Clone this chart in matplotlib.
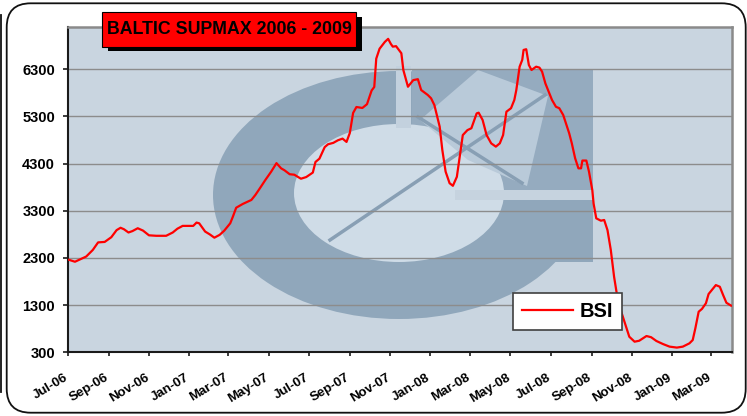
import matplotlib
matplotlib.use('Agg')
import matplotlib.pyplot as plt
import matplotlib.dates as mdates
import matplotlib.transforms as mtransforms
from matplotlib.patches import Ellipse, Rectangle, Polygon, FancyBboxPatch
from matplotlib.lines import Line2D
import pandas as pd

# ---------------- data ----------------
dates = [
    "2006-07-03", "2006-07-12", "2006-07-29", "2006-08-08", "2006-08-16", "2006-08-26",
    "2006-09-05", "2006-09-13", "2006-09-19", "2006-09-24", "2006-10-01", "2006-10-07",
    "2006-10-15", "2006-10-23", "2006-11-01", "2006-11-12", "2006-11-27", "2006-12-07",
    "2006-12-14", "2006-12-22", "2007-01-07", "2007-01-12", "2007-01-16", "2007-01-25",
    "2007-02-01", "2007-02-08", "2007-02-16", "2007-02-23", "2007-03-04", "2007-03-08",
    "2007-03-13", "2007-03-23", "2007-04-05", "2007-04-11", "2007-04-18", "2007-04-26",
    "2007-05-05", "2007-05-13", "2007-05-20", "2007-05-25", "2007-06-02", "2007-06-09",
    "2007-06-19", "2007-06-27", "2007-07-07", "2007-07-11", "2007-07-17", "2007-07-25",
    "2007-07-30", "2007-08-07", "2007-08-14", "2007-08-21", "2007-08-27", "2007-09-01",
    "2007-09-06", "2007-09-11", "2007-09-20", "2007-09-27", "2007-10-04", "2007-10-08",
    "2007-10-11", "2007-10-16", "2007-10-24", "2007-10-29", "2007-11-02", "2007-11-05",
    "2007-11-10", "2007-11-18", "2007-11-21", "2007-11-28", "2007-12-06", "2007-12-13",
    "2007-12-18", "2007-12-28", "2008-01-02", "2008-01-07", "2008-01-15", "2008-01-19",
    "2008-01-24", "2008-01-30", "2008-02-04", "2008-02-10", "2008-02-15", "2008-02-19",
    "2008-02-26", "2008-03-03", "2008-03-11", "2008-03-14", "2008-03-20", "2008-03-26",
    "2008-04-02", "2008-04-09", "2008-04-15", "2008-04-20", "2008-04-25", "2008-05-02",
    "2008-05-07", "2008-05-10", "2008-05-15", "2008-05-19", "2008-05-21", "2008-05-25",
    "2008-05-29", "2008-06-02", "2008-06-09", "2008-06-14", "2008-06-18", "2008-06-23",
    "2008-06-28", "2008-07-03", "2008-07-09", "2008-07-14", "2008-07-20", "2008-07-25",
    "2008-07-29", "2008-08-02", "2008-08-07", "2008-08-12", "2008-08-16", "2008-08-18",
    "2008-08-24", "2008-08-28", "2008-09-02", "2008-09-04", "2008-09-08", "2008-09-15",
    "2008-09-20", "2008-09-25", "2008-09-30", "2008-10-05", "2008-10-09", "2008-10-15",
    "2008-10-23", "2008-10-28", "2008-11-05", "2008-11-12", "2008-11-23", "2008-11-30",
    "2008-12-08", "2008-12-18", "2008-12-28", "2009-01-08", "2009-01-17", "2009-01-27",
    "2009-02-01", "2009-02-05", "2009-02-10", "2009-02-15", "2009-02-21", "2009-02-25",
    "2009-03-02", "2009-03-08", "2009-03-14", "2009-03-19", "2009-03-24", "2009-03-31",
]
bsi = [
    2260, 2220, 2330, 2470, 2630, 2640,
    2740, 2890, 2940, 2910, 2840, 2870,
    2930, 2880, 2780, 2770, 2770, 2840,
    2920, 2980, 2980, 3050, 3035, 2860,
    2800, 2730, 2790, 2880, 3035, 3175,
    3365, 3445, 3530, 3635, 3780, 3950,
    4130, 4310, 4200, 4160, 4075, 4065,
    3980, 4015, 4110, 4335, 4405, 4650,
    4710, 4740, 4795, 4830, 4760, 4950,
    5375, 5500, 5480, 5560, 5850, 5925,
    6525, 6735, 6880, 6945, 6840, 6780,
    6790, 6640, 6285, 5930, 6070, 6090,
    5860, 5755, 5685, 5540, 5085, 4590,
    4130, 3885, 3830, 4020, 4520, 4905,
    5010, 5050, 5365, 5380, 5225, 4905,
    4730, 4660, 4730, 4905, 5400, 5475,
    5650, 5860, 6355, 6500, 6710, 6725,
    6390, 6285, 6355, 6335, 6250, 6000,
    5825, 5650, 5505, 5475, 5330, 5120,
    4945, 4730, 4415, 4200, 4200, 4365,
    4365, 4130, 3740, 3450, 3140, 3090,
    3105, 2890, 2470, 1900, 1550, 1195,
    845, 630, 525, 545, 645, 620,
    540, 475, 420, 400, 420, 490,
    560, 810, 1160, 1220, 1340, 1535,
    1620, 1725, 1690, 1515, 1350, 1290,
]
y_ticks = [300, 1300, 2300, 3300, 4300, 5300, 6300]
y_limits = [300, 7190]
x_tick_dates = pd.date_range("2006-07-01", "2009-03-01", freq="2MS")
x_limits = ["2006-07-01", "2009-04-01"]
title_text = "BALTIC SUPMAX 2006 - 2009"
series_name = "BSI"

# ---------------- figure ----------------
plt.rcParams['font.family'] = ['Liberation Sans', 'DejaVu Sans']
plt.rcParams['font.weight'] = 'bold'

W, H = 747, 416
fig = plt.figure(figsize=(W / 100, H / 100), dpi=100)
fig.patch.set_facecolor('white')

L, R, T, B = 67.7, 731.7, 27.3, 352.3
ax = fig.add_axes([L / W, 1 - B / H, (R - L) / W, (B - T) / H])
ax.set_facecolor('#c9d5e0')


def axp(px, py):
    return ((px - L) / (R - L), (B - py) / (B - T))


# watermark logo (decorative)
ring = '#90a7bb'
light = '#cfdce7'
wm = []
wm.append(Ellipse(axp(399, 195), 372 / (R - L), 248 / (B - T), fc=ring, ec='none'))
wm.append(Rectangle(axp(412, 190), 181 / (R - L), 121 / (B - T), fc='#95abbf', ec='none'))
wm.append(Rectangle(axp(507, 262), 86 / (R - L), 62 / (B - T), fc=ring, ec='none'))
wm.append(Ellipse(axp(399, 193), 210 / (R - L), 138 / (B - T), fc=light, ec='none'))
wm.append(Rectangle(axp(455, 200), 140 / (R - L), 10 / (B - T), fc='#c6d3df', ec='none'))
wm.append(Rectangle(axp(396, 128), 15 / (R - L), 62 / (B - T), fc='#c3d1de', ec='none'))
wm.append(Polygon([axp(420, 120), axp(478, 70), axp(548, 96), axp(527, 186), axp(468, 160)],
                  closed=True, fc='#b9cad9', ec='none'))
for p in wm:
    p.set_transform(ax.transAxes)
    p.set_zorder(0.2)
    ax.add_patch(p)
for (x0, y0, x1, y1) in [(330, 240, 545, 95), (418, 117, 522, 183)]:
    a0, a1 = axp(x0, y0), axp(x1, y1)
    ax.add_line(Line2D([a0[0], a1[0]], [a0[1], a1[1]], transform=ax.transAxes,
                       color='#889fb4', lw=2.5, zorder=0.3))

# data line
x = pd.to_datetime(dates)
ax.plot(x, bsi, color='#ff0000', lw=1.6, label=series_name, zorder=3)

ax.set_ylim(*y_limits)
ax.set_xlim(pd.Timestamp(x_limits[0]), pd.Timestamp(x_limits[1]))
ax.set_yticks(y_ticks)
ax.set_yticklabels([str(v) for v in y_ticks])
ax.set_xticks(x_tick_dates)
ax.xaxis.set_major_formatter(mdates.DateFormatter('%b-%y'))

ax.set_axisbelow(True)
ax.yaxis.grid(True, color='#8c8c8c', lw=1.0, zorder=0.5)
ax.xaxis.grid(False)

for s in ['top', 'right']:
    ax.spines[s].set_color('#8a8a8a')
    ax.spines[s].set_linewidth(1.8)
for s in ['left', 'bottom']:
    ax.spines[s].set_color('#1a1a1a')
    ax.spines[s].set_linewidth(1.5)

ax.tick_params(axis='y', direction='out', length=3.6, width=1.2, color='#1a1a1a',
               pad=5.5, labelsize=10.5)
ax.tick_params(axis='x', direction='out', length=3.0, width=1.2, color='#1a1a1a',
               pad=11, labelsize=9.5)
offset = mtransforms.ScaledTranslation(-4 / 100, 0, fig.dpi_scale_trans)
for lbl in ax.get_xticklabels():
    lbl.set_rotation(31)
    lbl.set_ha('right')
    lbl.set_va('top')
    lbl.set_rotation_mode('anchor')
    lbl.set_fontweight('bold')
    lbl.set_transform(lbl.get_transform() + offset)
for lbl in ax.get_yticklabels():
    lbl.set_fontweight('bold')

# legend
leg = ax.legend(loc='upper left', bbox_to_anchor=axp(512.7, 292.7), borderaxespad=0,
                prop={'weight': 'bold', 'size': 14.5}, handlelength=2.55,
                handletextpad=0.3, borderpad=0.45, fancybox=False, framealpha=1,
                edgecolor='#404040', facecolor='white')
leg.get_frame().set_linewidth(1.2)
for ln in leg.get_lines():
    ln.set_linewidth(1.6)

# title box with shadow (pixel coordinates)
pix = mtransforms.IdentityTransform()
fig.add_artist(Rectangle((107.5, H - 51), 254.2, 34.3, transform=pix, fc='black', ec='none'))
fig.add_artist(Rectangle((102.3, H - 46.7), 253.4, 34.4, transform=pix, fc='#ff0000',
                         ec='black', lw=0.8))
fig.text(229.5 / W, 1 - 29.8 / H, title_text, ha='center', va='center',
         fontsize=12.8, fontweight='bold', color='black')

# outer rounded frame
fig.add_artist(FancyBboxPatch((6.7, 3.3), 739.0, 409.4,
                              boxstyle='round,pad=0,rounding_size=24',
                              transform=pix, fill=False, ec='#111111', lw=1.3))
fig.add_artist(Line2D([1.2, 1.2], [H - 15, H - 392], transform=pix, color='#111111', lw=1.3))

fig.savefig('out.png', dpi=100, facecolor='white')
